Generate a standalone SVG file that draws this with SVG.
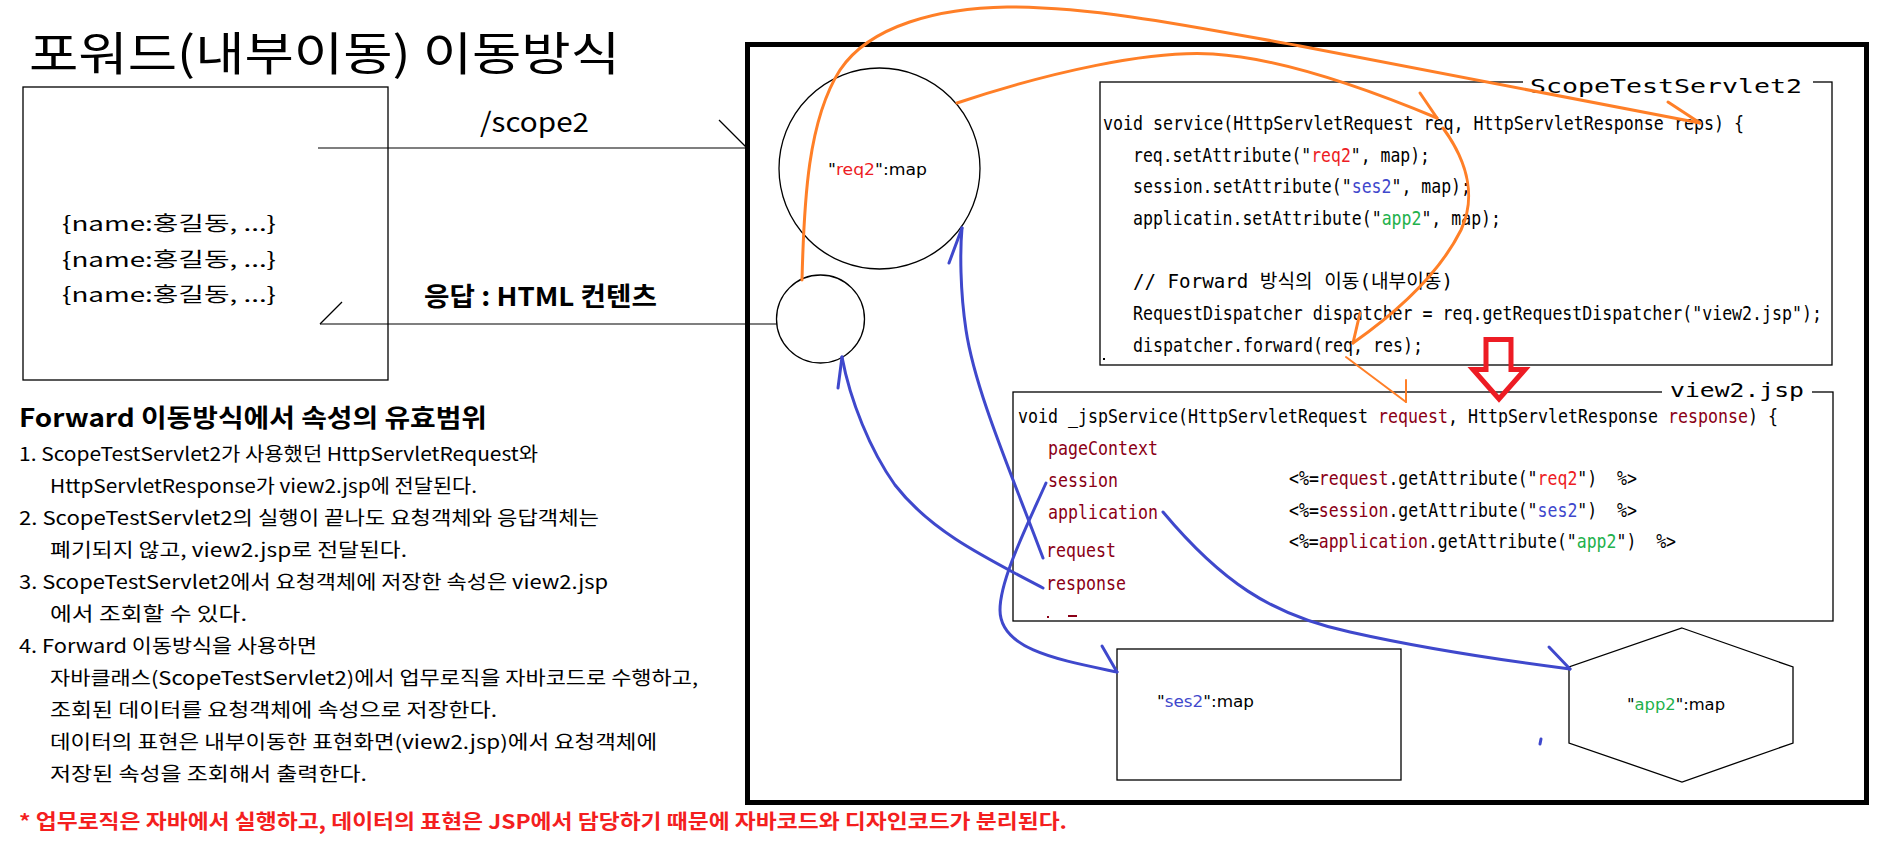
<svg xmlns="http://www.w3.org/2000/svg" width="1898" height="868" viewBox="0 0 1898 868">
<style>
.ko{font-family:"Noto Sans CJK KR","Noto Sans",sans-serif}
.cd{font-family:"DejaVu Sans Mono","Liberation Mono","Noto Sans CJK KR",monospace;font-size:19px}
.lb{font-family:"DejaVu Sans","Noto Sans",sans-serif;font-size:16px}
.dr{fill:#8b0016}
.rd{fill:#ed1c24}
.bl{fill:#3f48cc}
.gr{fill:#22b14c}
.box{fill:#fff;stroke:#000;stroke-width:1.3}
.thin{fill:none;stroke:#000;stroke-width:1.2}
.or{fill:none;stroke:#ff7f27;stroke-width:3;stroke-linecap:round}
.or2{fill:none;stroke:#ff7f27;stroke-width:2;stroke-linecap:round}
.bu{fill:none;stroke:#3f48cc;stroke-width:3;stroke-linecap:round}
</style>
<rect width="1898" height="868" fill="#fff"/>

<!-- title and explanation -->
<g id="title">
<text class="ko" x="29" y="70" font-size="46" textLength="591" lengthAdjust="spacingAndGlyphs">포워드(내부이동) 이동방식</text>
</g>

<g id="browser">
<rect class="box" x="23" y="87" width="365" height="293"/>
<text class="ko" x="62" y="231" font-size="20" textLength="214" lengthAdjust="spacingAndGlyphs">{name:홍길동, ...}</text>
<text class="ko" x="62" y="267" font-size="20" textLength="214" lengthAdjust="spacingAndGlyphs">{name:홍길동, ...}</text>
<text class="ko" x="62" y="302" font-size="20" textLength="214" lengthAdjust="spacingAndGlyphs">{name:홍길동, ...}</text>
</g>

<g id="notes" class="ko">
<text x="19" y="427" font-size="25" font-weight="bold" textLength="468" lengthAdjust="spacingAndGlyphs">Forward 이동방식에서 속성의 유효범위</text>
<g font-size="19">
<text x="19" y="461" textLength="519" lengthAdjust="spacingAndGlyphs">1. ScopeTestServlet2가 사용했던 HttpServletRequest와</text>
<text x="50" y="493" textLength="427" lengthAdjust="spacingAndGlyphs">HttpServletResponse가 view2.jsp에 전달된다.</text>
<text x="19" y="525" textLength="580" lengthAdjust="spacingAndGlyphs">2. ScopeTestServlet2의 실행이 끝나도 요청객체와 응답객체는</text>
<text x="50" y="557" textLength="357" lengthAdjust="spacingAndGlyphs">폐기되지 않고, view2.jsp로 전달된다.</text>
<text x="19" y="589" textLength="589" lengthAdjust="spacingAndGlyphs">3. ScopeTestServlet2에서 요청객체에 저장한 속성은 view2.jsp</text>
<text x="50" y="621" textLength="197" lengthAdjust="spacingAndGlyphs">에서 조회할 수 있다.</text>
<text x="19" y="653" textLength="298" lengthAdjust="spacingAndGlyphs">4. Forward 이동방식을 사용하면</text>
<text x="50" y="685" textLength="648" lengthAdjust="spacingAndGlyphs">자바클래스(ScopeTestServlet2)에서 업무로직을 자바코드로 수행하고,</text>
<text x="50" y="717" textLength="447" lengthAdjust="spacingAndGlyphs">조회된 데이터를 요청객체에 속성으로 저장한다.</text>
<text x="50" y="749" textLength="607" lengthAdjust="spacingAndGlyphs">데이터의 표현은 내부이동한 표현화면(view2.jsp)에서 요청객체에</text>
<text x="50" y="781" textLength="317" lengthAdjust="spacingAndGlyphs">저장된 속성을 조회해서 출력한다.</text>
</g>
<text x="19" y="829" font-size="20" font-weight="bold" fill="#f41f1f" textLength="1048" lengthAdjust="spacingAndGlyphs">* 업무로직은 자바에서 실행하고, 데이터의 표현은 JSP에서 담당하기 때문에 자바코드와 디자인코드가 분리된다.</text>
</g>

<!-- server container -->
<g id="server">
<rect x="747.5" y="44.5" width="1119" height="758" fill="none" stroke="#000" stroke-width="5"/>
</g>

<g id="req2-circle">
<circle class="box" cx="879.5" cy="168.5" r="100.5"/>
<text class="lb" x="828" y="175" textLength="99" lengthAdjust="spacingAndGlyphs">"<tspan class="rd">req2</tspan>":map</text>
</g>

<g id="small-circle">
<circle class="box" cx="820.5" cy="319" r="44"/>
</g>

<g id="servlet">
<rect class="box" x="1100" y="82" width="732" height="283"/>
<rect x="1523" y="70" width="290" height="26" fill="#fff"/>
<text class="cd" x="1530" y="93" font-size="27" textLength="272" lengthAdjust="spacingAndGlyphs">ScopeTestServlet2</text>
<text class="cd" x="1103" y="130" textLength="641" lengthAdjust="spacingAndGlyphs">void service(HttpServletRequest req, HttpServletResponse reps) {</text>
<text class="cd" x="1133" y="162" textLength="297" lengthAdjust="spacingAndGlyphs">req.setAttribute("<tspan class="rd">req2</tspan>", map);</text>
<text class="cd" x="1133" y="193" textLength="338" lengthAdjust="spacingAndGlyphs">session.setAttribute("<tspan class="bl">ses2</tspan>", map);</text>
<text class="cd" x="1133" y="225" textLength="368" lengthAdjust="spacingAndGlyphs">applicatin.setAttribute("<tspan class="gr">app2</tspan>", map);</text>
<text class="cd" x="1133" y="288" textLength="320" lengthAdjust="spacingAndGlyphs">// Forward 방식의 이동(내부이동)</text>
<text class="cd" x="1133" y="320" textLength="689" lengthAdjust="spacingAndGlyphs">RequestDispatcher dispatcher = req.getRequestDispatcher("view2.jsp");</text>
<text class="cd" x="1133" y="352" textLength="290" lengthAdjust="spacingAndGlyphs">dispatcher.forward(req, res);</text>
<rect x="1103" y="358" width="2" height="2" fill="#000"/>
</g>

<g id="view2">
<rect class="box" x="1013" y="392" width="820" height="229"/>
<rect x="1662" y="376" width="150" height="28" fill="#fff"/>
<text class="cd" x="1670" y="397" font-size="26" textLength="134" lengthAdjust="spacingAndGlyphs">view2.jsp</text>
<text class="cd" x="1018" y="423" textLength="760" lengthAdjust="spacingAndGlyphs">void _jspService(HttpServletRequest <tspan class="dr">request</tspan>, HttpServletResponse <tspan class="dr">response</tspan>) {</text>
<g class="dr">
<text class="cd" x="1048" y="455" textLength="110" lengthAdjust="spacingAndGlyphs">pageContext</text>
<text class="cd" x="1048" y="487" textLength="70" lengthAdjust="spacingAndGlyphs">session</text>
<text class="cd" x="1048" y="519" textLength="110" lengthAdjust="spacingAndGlyphs">application</text>
<text class="cd" x="1046" y="557" textLength="70" lengthAdjust="spacingAndGlyphs">request</text>
<text class="cd" x="1046" y="590" textLength="80" lengthAdjust="spacingAndGlyphs">response</text>
<rect x="1047" y="616" width="2" height="2"/>
<rect x="1068" y="615" width="9" height="2"/>
</g>
<text class="cd" x="1289" y="485" xml:space="preserve" textLength="348" lengthAdjust="spacingAndGlyphs">&lt;%=<tspan class="dr">request</tspan>.getAttribute("<tspan class="rd">req2</tspan>")  %&gt;</text>
<text class="cd" x="1289" y="517" xml:space="preserve" textLength="348" lengthAdjust="spacingAndGlyphs">&lt;%=<tspan class="dr">session</tspan>.getAttribute("<tspan class="bl">ses2</tspan>")  %&gt;</text>
<text class="cd" x="1289" y="548" xml:space="preserve" textLength="387" lengthAdjust="spacingAndGlyphs">&lt;%=<tspan class="dr">application</tspan>.getAttribute("<tspan class="gr">app2</tspan>")  %&gt;</text>
</g>

<g id="ses2-box">
<rect class="box" x="1117" y="649" width="284" height="131"/>
<text class="lb" x="1157" y="707" textLength="97" lengthAdjust="spacingAndGlyphs">"<tspan class="bl">ses2</tspan>":map</text>
</g>

<g id="app2-hex">
<polygon class="box" points="1682,628 1793,667 1793,743 1682,782 1569,743 1569,667"/>
<text class="lb" x="1627" y="710" textLength="98" lengthAdjust="spacingAndGlyphs">"<tspan class="gr">app2</tspan>":map</text>
</g>

<g id="forward-arrow">
<polygon points="1486,339.5 1511,339.5 1511,369.5 1525,369.5 1499,399 1473,369.5 1486,369.5" fill="none" stroke="#ed1c24" stroke-width="5" stroke-linejoin="miter"/>
</g>

<g id="connectors">
<!-- request /scope2 -->
<line class="thin" x1="318" y1="148" x2="747" y2="148"/>
<line class="thin" x1="719" y1="120" x2="747" y2="148"/>
<text class="ko" x="480" y="132" font-size="27" textLength="109" lengthAdjust="spacingAndGlyphs">/scope2</text>
<!-- response -->
<line class="thin" x1="320" y1="324" x2="776.5" y2="324"/>
<line class="thin" x1="320" y1="324" x2="342" y2="302"/>
<text class="ko" x="424" y="306" font-size="26" font-weight="bold" textLength="233" lengthAdjust="spacingAndGlyphs">응답 : HTML 컨텐츠</text>

<!-- orange -->
<path class="or" d="M802,280 C804,200 808,120 840,70 C870,25 940,8 1007,7 C1100,7 1200,28 1300,46 L1700,123"/>
<line class="or" x1="1668" y1="102" x2="1700" y2="123"/>
<path class="or" d="M957,103 C1050,72 1150,50 1213,54 C1280,58 1370,90 1437,118"/>
<line class="or" x1="1420" y1="93" x2="1437" y2="118"/>
<path class="or" d="M1443,128 C1470,165 1475,200 1461,230 C1440,272 1400,310 1353,343"/>
<line class="or" x1="1360" y1="313" x2="1353" y2="343"/>
<line class="or2" x1="1346" y1="357" x2="1406" y2="402"/>
<line class="or2" x1="1406" y1="380" x2="1406" y2="402"/>

<!-- blue -->
<path class="bu" d="M1043,558 C1010,470 975,390 966,330 C960,290 960,250 962,228"/>
<line class="bu" x1="949" y1="263" x2="962" y2="228"/>
<path class="bu" d="M1043,588 C980,555 930,530 895,485 C870,450 850,400 842,357"/>
<line class="bu" x1="838" y1="388" x2="842" y2="357"/>
<path class="bu" d="M1046,483 C1025,530 1000,580 1000,610 C1000,650 1060,660 1117,672"/>
<line class="bu" x1="1102" y1="646" x2="1117" y2="672"/>
<path class="bu" d="M1163,512 C1220,580 1270,615 1350,632 C1430,650 1500,660 1570,669"/>
<line class="bu" x1="1549" y1="647" x2="1570" y2="669"/>
<line class="bu" x1="1541" y1="739" x2="1540" y2="744"/>
</g>
</svg>
